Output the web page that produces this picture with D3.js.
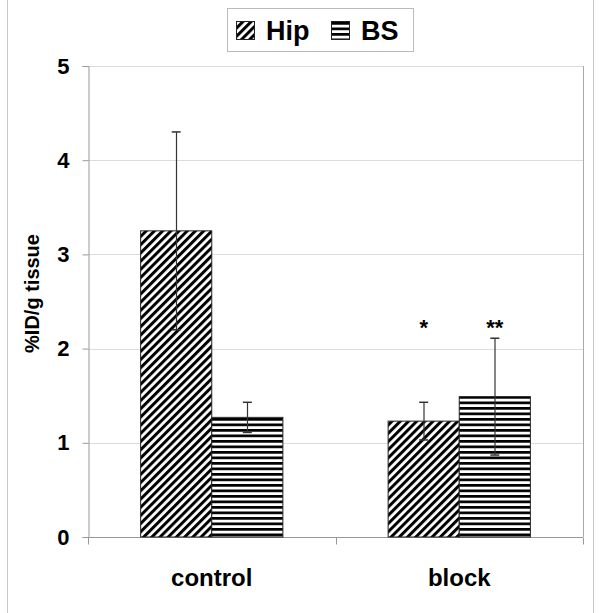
<!DOCTYPE html>
<html>
<head>
<meta charset="utf-8">
<script src="https://cdn.jsdelivr.net/npm/d3@7"></script>
<style>
  html, body { margin: 0; padding: 0; background: #fff; }
  svg { display: block; font-family: "Liberation Sans", Arial, sans-serif; }
</style>
</head>
<body>
<svg id="chart" width="601" height="613"></svg>
<script>
const categories = ["control", "block"];
const seriesNames = ["Hip", "BS"];
const hipMeans = [3.25, 1.23];
const hipErrors = [1.05, 0.20];
const bsMeans = [1.27, 1.49];
const bsErrors = [0.16, 0.62];
const significance = ["", "*"];      // Hip
const significanceBS = ["", "**"];   // BS
const sigLevel = 2.14;
const yTicks = [0, 1, 2, 3, 4, 5];

const svg = d3.select("#chart");
const margin = { left: 88, right: 18, top: 66, bottom: 76 };
const W = 601, H = 613;
const x0 = d3.scaleBand().domain(categories).range([margin.left, W - margin.right]).padding(0);
const x1 = d3.scaleBand().domain(seriesNames).range([0, x0.bandwidth()]).paddingInner(0).paddingOuter(0.74);
const y = d3.scaleLinear().domain([0, 5]).range([H - margin.bottom, margin.top]);

// patterns
const defs = svg.append("defs");
const pHip = defs.append("pattern").attr("id", "pHip").attr("patternUnits", "userSpaceOnUse")
  .attr("width", 5.8).attr("height", 5.8).attr("patternTransform", "rotate(45)");
pHip.append("rect").attr("width", 5.8).attr("height", 5.8).attr("fill", "#fff");
pHip.append("rect").attr("x", 0).attr("y", 0).attr("width", 3.0).attr("height", 5.8).attr("fill", "#000");
const pBS = defs.append("pattern").attr("id", "pBS").attr("patternUnits", "userSpaceOnUse")
  .attr("width", 6).attr("height", 5.5);
pBS.append("rect").attr("width", 6).attr("height", 5.5).attr("fill", "#fff");
pBS.append("rect").attr("x", 0).attr("y", 0).attr("width", 6).attr("height", 2.7).attr("fill", "#000");
const fills = { Hip: "url(#pHip)", BS: "url(#pBS)" };

// outer frame
svg.append("rect").attr("x", 7.5).attr("y", -2).attr("width", 586).attr("height", 620)
  .attr("fill", "none").attr("stroke", "#c8c8c8");

// gridlines
svg.append("g").selectAll("line").data(yTicks.filter(d => d > 0)).join("line")
  .attr("x1", margin.left).attr("x2", W - margin.right)
  .attr("y1", d => Math.round(y(d)) + 0.5).attr("y2", d => Math.round(y(d)) + 0.5)
  .attr("stroke", "#dcdcdc");
// right border
svg.append("line").attr("x1", W - margin.right + 0.5).attr("x2", W - margin.right + 0.5)
  .attr("y1", y(5)).attr("y2", y(0)).attr("stroke", "#aaa");

// y axis
const yAxis = svg.append("g").attr("transform", `translate(${margin.left + 0.5},0)`)
  .call(d3.axisLeft(y).tickValues(yTicks).tickSize(6).tickPadding(13).tickFormat(d3.format("d")));
yAxis.select(".domain").attr("stroke", "#999");
yAxis.selectAll(".tick line").attr("stroke", "#999");
yAxis.selectAll(".tick text").attr("font-size", 22).attr("font-weight", "bold").attr("fill", "#000")
  .attr("font-family", "Liberation Sans, Arial, sans-serif");

// x axis
const xAxisG = svg.append("g").attr("transform", `translate(0,${Math.round(y(0)) + 0.5})`);
xAxisG.append("line").attr("x1", margin.left).attr("x2", W - margin.right).attr("stroke", "#999");
const xTickPos = [margin.left, ...categories.slice(1).map(c => x0(c)), W - margin.right];
xAxisG.selectAll(".xt").data(xTickPos).join("line").attr("class", "xt")
  .attr("x1", d => Math.round(d) + 0.5).attr("x2", d => Math.round(d) + 0.5)
  .attr("y1", 0).attr("y2", 7).attr("stroke", "#999");
const xAxis = d3.axisBottom(x0).tickSize(0).tickPadding(32);
const xg = svg.append("g").attr("transform", `translate(0,${y(0)})`).call(xAxis);
xg.select(".domain").remove();
xg.selectAll(".tick text").attr("font-size", 24).attr("font-weight", "bold").attr("fill", "#000")
  .attr("font-family", "Liberation Sans, Arial, sans-serif");

// bars
const rows = categories.map((c, i) => ({
  cat: c,
  items: [
    { s: "Hip", v: hipMeans[i], e: hipErrors[i], sig: significance[i] },
    { s: "BS", v: bsMeans[i], e: bsErrors[i], sig: significanceBS[i] }
  ]
}));
const groups = svg.append("g").selectAll("g").data(rows).join("g")
  .attr("transform", d => `translate(${x0(d.cat)},0)`);
groups.selectAll("rect").data(d => d.items).join("rect")
  .attr("x", d => x1(d.s)).attr("width", x1.bandwidth())
  .attr("y", d => y(d.v)).attr("height", d => y(0) - y(d.v))
  .attr("fill", d => fills[d.s]).attr("stroke", "#222").attr("stroke-width", 1);

// error bars
const eb = groups.selectAll("g.eb").data(d => d.items).join("g").attr("class", "eb");
eb.append("line")
  .attr("x1", d => Math.round(x1(d.s) + x1.bandwidth() / 2) + 0.5)
  .attr("x2", d => Math.round(x1(d.s) + x1.bandwidth() / 2) + 0.5)
  .attr("y1", d => y(d.v + d.e)).attr("y2", d => y(d.v - d.e))
  .attr("stroke", "#333").attr("stroke-width", 1.2);
eb.selectAll("line.cap").data(d => [d.v + d.e, d.v - d.e].map(val => ({ d, val }))).join("line")
  .attr("class", "cap")
  .attr("x1", o => x1(o.d.s) + x1.bandwidth() / 2 - 4.5)
  .attr("x2", o => x1(o.d.s) + x1.bandwidth() / 2 + 4.5)
  .attr("y1", o => y(o.val)).attr("y2", o => y(o.val))
  .attr("stroke", "#333").attr("stroke-width", 1.5);

// significance marks
groups.selectAll("text.sig").data(d => d.items.filter(it => it.sig)).join("text").attr("class", "sig")
  .attr("x", d => x1(d.s) + x1.bandwidth() / 2).attr("y", y(sigLevel))
  .attr("text-anchor", "middle").attr("font-size", 22).attr("font-weight", "bold")
  .text(d => d.sig);

// y axis title
svg.append("text").attr("transform", `translate(39,${(y(0) + y(5)) / 2 - 8}) rotate(-90)`)
  .attr("text-anchor", "middle").attr("font-size", 20).attr("font-weight", "bold")
  .text("%ID/g tissue");

// legend
const lg = svg.append("g");
lg.append("rect").attr("x", 227.5).attr("y", 8.5).attr("width", 186).attr("height", 43)
  .attr("fill", "#fff").attr("stroke", "#bbb");
const legItems = [{ s: "Hip", x: 236 }, { s: "BS", x: 331 }];
legItems.forEach(li => {
  lg.append("rect").attr("x", li.x + 0.5).attr("y", 21.5).attr("width", 18).attr("height", 18)
    .attr("fill", fills[li.s]).attr("stroke", "#222");
  lg.append("text").attr("x", li.x + 30).attr("y", 39.5).attr("font-size", 27).attr("font-weight", "bold")
    .text(li.s);
});
</script>
</body>
</html>
